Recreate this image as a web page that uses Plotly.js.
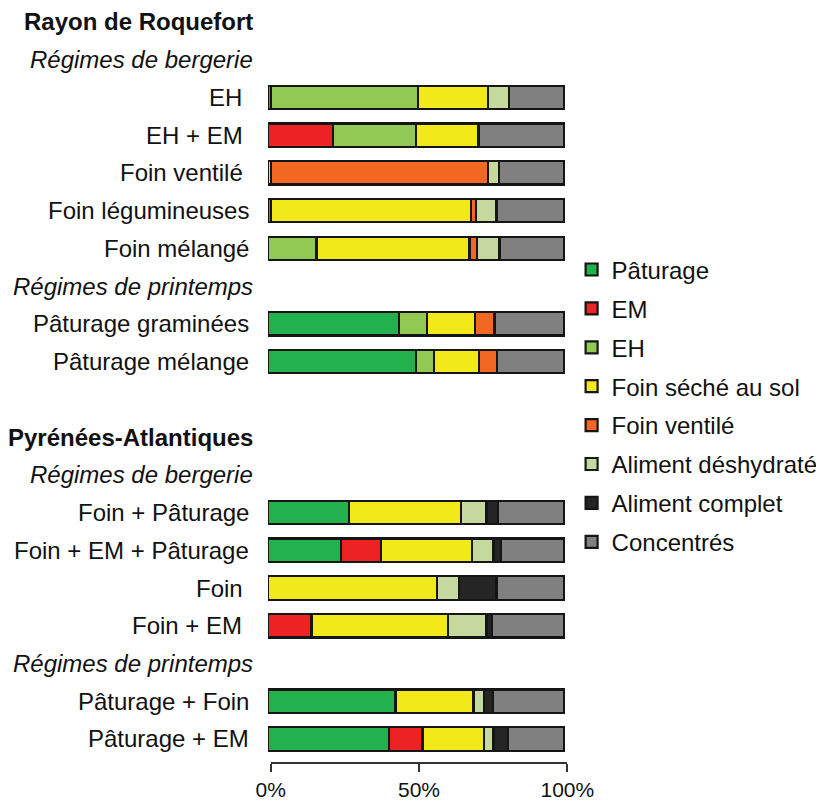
<!DOCTYPE html>
<html><head><meta charset="utf-8">
<script src="https://cdn.plot.ly/plotly-3.0.1.min.js"></script>
<style>html,body{margin:0;padding:0;background:#fff}</style>
</head><body><div id="chart" style="width:816px;height:801px"></div>
<script>
// Row order (top to bottom); header rows use ids
const rowOrder = ["h1", "h1b", "EH", "EH + EM", "Foin ventilé", "Foin légumineuses", "Foin mélangé",
  "h1p", "Pâturage graminées", "Pâturage mélange", "sp",
  "h2", "h2b", "Foin + Pâturage", "Foin + EM + Pâturage", "Foin", "Foin + EM",
  "h2p", "Pâturage + Foin", "Pâturage + EM"];

// Bar rows
const regimes = ["EH", "EH + EM", "Foin ventilé", "Foin légumineuses", "Foin mélangé",
  "Pâturage graminées", "Pâturage mélange",
  "Foin + Pâturage", "Foin + EM + Pâturage", "Foin", "Foin + EM",
  "Pâturage + Foin", "Pâturage + EM"];

// Header rows
const headerIds = ["h1", "h1b", "h1p", "h2", "h2b", "h2p"];
const headerTexts = ["<b>Rayon de Roquefort</b>", "<i>Régimes de bergerie</i>", "<i>Régimes de printemps</i>",
  "<b>Pyrénées-Atlantiques</b>", "<i>Régimes de bergerie</i>", "<i>Régimes de printemps</i>"];

// Feed categories (legend)
const feeds = ["Pâturage", "EM", "EH", "Foin séché au sol", "Foin ventilé", "Aliment déshydraté", "Aliment complet", "Concentrés"];
const feedColors = ["#22b14c", "#ed2224", "#92c954", "#f2e91a", "#f26722", "#c5d99e", "#252525", "#808080"];

// Shares (%) per regime, in regimes order
const paturage   = [0.9, null, null, 0.9, null, 44.3, 50.0, 27.3, 24.7, null, null, 43.1, 40.9];
const em         = [null, 22.0, null, null, null, null, null, null, 13.4, null, 14.7, null, 11.3];
const eh         = [49.7, 28.1, null, null, 16.4, 9.4, 6.2, null, null, null, null, null, null];
const foinSol    = [23.7, 21.0, 1.1, 67.8, 51.7, 16.1, 15.0, 37.8, 30.9, 57.1, 46.1, 26.3, 20.8];
const foinVentile= [null, null, 73.2, 1.7, 2.4, 6.7, 6.1, null, null, null, null, null, null];
const alDeshy    = [7.0, null, 3.8, 6.8, 7.7, null, null, 8.7, 7.2, 7.3, 13.0, 3.7, 3.2];
const alComplet  = [null, null, null, null, null, null, null, 4.0, 2.5, 12.8, 1.8, 2.9, 5.0];
const concentres = [18.6, 28.8, 21.8, 22.8, 21.8, 23.5, 22.7, 22.2, 21.2, 22.8, 24.4, 23.9, 18.8];

const series = [paturage, em, eh, foinSol, foinVentile, alDeshy, alComplet, concentres];

// labels that carry a trailing space in the original layout
const trailingSpace = ["EH", "EH + EM", "Foin ventilé", "Foin", "Foin + EM"];

const FONT = "Liberation Sans, Arial, sans-serif";

const traces = series.map((vals, i) => ({
  type: "bar",
  orientation: "h",
  name: feeds[i],
  x: vals,
  y: regimes,
  width: 0.62,
  legendgroup: "g" + i,
  marker: {color: feedColors[i], line: {color: "#151515", width: 2.2}},
  hoverinfo: "skip"
}));
// empty trace to carry the visible percentage axis
traces.push({type: "scatter", x: [], y: [], xaxis: "x2", yaxis: "y", showlegend: false, hoverinfo: "skip"});

const annotations = [];
regimes.forEach(r => annotations.push({
  xref: "paper", yref: "y", x: -0.057, y: r, xanchor: "right", yanchor: "middle",
  text: trailingSpace.includes(r) ? r + "\u00A0" : r, showarrow: false,
  font: {family: FONT, size: 24, color: "#111"}
}));
headerIds.forEach((h, i) => annotations.push({
  xref: "paper", yref: "y", x: -0.045, y: h, xanchor: "right", yanchor: "middle",
  text: headerTexts[i], showarrow: false, font: {family: FONT, size: 24, color: "#111"}
}));

const layout = {
  width: 816, height: 801,
  margin: {l: 268, r: 248, t: 3, b: 39, autoexpand: false},
  paper_bgcolor: "#fff", plot_bgcolor: "rgba(0,0,0,0)",
  barmode: "stack",
  showlegend: true,
  font: {family: FONT, color: "#111"},
  xaxis: {domain: [0, 1], range: [0, 101.35], visible: false, fixedrange: true},
  xaxis2: {domain: [0.009, 0.9977], anchor: "y", range: [0, 100],
    tickvals: [0, 50, 100], ticktext: ["0%", "50%", "100%"],
    ticks: "outside", ticklen: 8, tickwidth: 2, tickcolor: "#333",
    showline: true, linewidth: 2, linecolor: "#333",
    showgrid: false, zeroline: false, fixedrange: true,
    tickfont: {family: FONT, size: 21, color: "#111"}},
  yaxis: {type: "category", categoryorder: "array", categoryarray: rowOrder,
    range: [19.61, -0.5], showticklabels: false, showgrid: false, zeroline: false,
    showline: false, ticks: "", fixedrange: true},
  legend: {x: 1.012, xanchor: "left", y: 0.678, yanchor: "top",
    font: {family: FONT, size: 24, color: "#111"},
    tracegroupgap: 4.7, traceorder: "grouped", bgcolor: "rgba(0,0,0,0)"},
  annotations: annotations
};

Plotly.newPlot("chart", traces, layout, {displayModeBar: false, staticPlot: true});
</script>
</body></html>
